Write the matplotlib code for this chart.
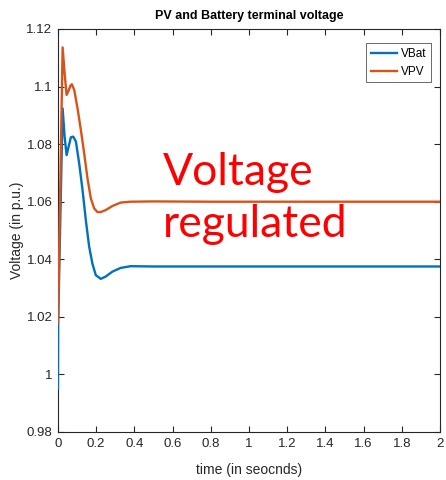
import matplotlib
matplotlib.use('Agg')
import matplotlib.pyplot as plt
from matplotlib.ticker import FuncFormatter

# (time in s, voltage in p.u.)
t_bat = [0, 0.001, 0.0243, 0.0347, 0.0451, 0.0556, 0.0677, 0.0799, 0.0938,
         0.1111, 0.1285, 0.1458, 0.1632, 0.1806, 0.1979, 0.224, 0.25, 0.2847,
         0.328, 0.38, 0.5, 0.8, 1.2, 1.6, 2.0]
v_bat = [0.995, 1.018, 1.0924, 1.0826, 1.0762, 1.0791, 1.0824, 1.0826, 1.0809,
         1.0733, 1.0641, 1.0536, 1.0444, 1.0384, 1.0345, 1.0332, 1.0340, 1.0357,
         1.0370, 1.0376, 1.0375, 1.0375, 1.0375, 1.0375, 1.0375]

t_pv = [0, 0.0243, 0.0347, 0.0451, 0.0556, 0.066, 0.0729, 0.0851, 0.1024,
        0.1198, 0.1372, 0.1545, 0.1719, 0.1892, 0.2066, 0.224, 0.25, 0.2847,
        0.328, 0.38, 0.5, 0.8, 1.2, 1.6, 2.0]
v_pv = [1.0179, 1.1136, 1.1046, 1.0971, 1.0986, 1.1004, 1.1008, 1.0988, 1.0924,
        1.0849, 1.0768, 1.0681, 1.0612, 1.0577, 1.0564, 1.0564, 1.0571, 1.0585,
        1.0597, 1.0600, 1.0601, 1.0600, 1.0600, 1.0600, 1.0600]

xticks = [0, 0.2, 0.4, 0.6, 0.8, 1.0, 1.2, 1.4, 1.6, 1.8, 2.0]
yticks = [0.98, 1.0, 1.02, 1.04, 1.06, 1.08, 1.1, 1.12]

narrow = ['Liberation Sans Narrow', 'Liberation Sans', 'DejaVu Sans']
grey = '#262626'

fig = plt.figure(figsize=(4.46, 4.8), dpi=100)
ax = fig.add_axes([0.130, 0.100, 0.8565, 0.8396])

# lines sit over the axis box, as in the matlab figure
ax.plot(t_bat, v_bat, color='#0072BD', lw=1.7, label='VBat', zorder=3)
ax.plot(t_pv, v_pv, color='#D95319', lw=1.7, label='VPV', zorder=3)

ax.set_xlim(0, 2)
ax.set_ylim(0.98, 1.12)
ax.set_xticks(xticks)
ax.set_yticks(yticks)
fmt = FuncFormatter(lambda v, p: '%g' % round(v, 2))
ax.xaxis.set_major_formatter(fmt)
ax.yaxis.set_major_formatter(fmt)
ax.tick_params(direction='in', top=True, right=True, length=4, width=0.8,
               labelsize=9.5, colors=grey, labelcolor=grey, pad=4)
for lab in ax.get_xticklabels() + ax.get_yticklabels():
    lab.set_family(narrow)
for s in ax.spines.values():
    s.set_color(grey)
    s.set_linewidth(0.8)

ax.set_title('PV and Battery terminal voltage', fontsize=9, fontweight='bold',
             family=narrow, color='black', pad=7)
ax.set_xlabel('time (in seocnds)', fontsize=10, family=narrow, color=grey, labelpad=10)
ax.set_ylabel('Voltage (in p.u.)', fontsize=10, family=narrow, color=grey, labelpad=1.5)

leg = ax.legend(loc='upper right', handlelength=2.2, borderpad=0.4,
                labelspacing=0.5, handletextpad=0.3, fancybox=False,
                borderaxespad=0, bbox_to_anchor=(0.976, 0.965),
                prop={'family': narrow, 'size': 8.5})
leg.get_frame().set_edgecolor(grey)
leg.get_frame().set_linewidth(0.6)
leg.set_zorder(5)

ax.text(0.275, 0.613, 'Voltage', transform=ax.transAxes, color='red',
        fontsize=32, family=['Lato', 'DejaVu Sans'], ha='left', va='baseline')
ax.text(0.275, 0.484, 'regulated', transform=ax.transAxes, color='red',
        fontsize=32, family=['Lato', 'DejaVu Sans'], ha='left', va='baseline')

fig.savefig('out.png', dpi=100)
